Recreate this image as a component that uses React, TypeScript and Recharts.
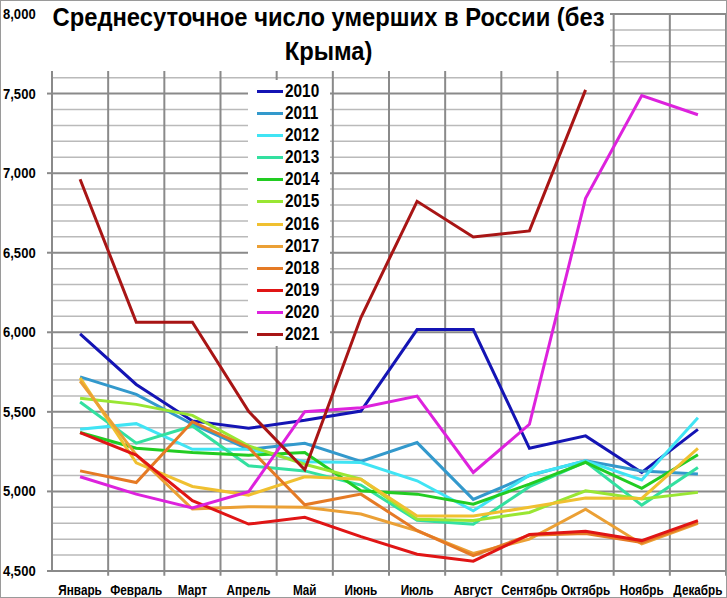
import { LineChart, Line, XAxis, YAxis, ReferenceLine } from "recharts"

const months = ["Январь", "Февраль", "Март", "Апрель", "Май", "Июнь", "Июль", "Август", "Сентябрь", "Октябрь", "Ноябрь", "Декабрь"]
const years = ["2010", "2011", "2012", "2013", "2014", "2015", "2016", "2017", "2018", "2019", "2020", "2021"]

const y2010 = [5990, 5672, 5443, 5397, 5447, 5505, 6017, 6017, 5271, 5349, 5119, 5390]
const y2011 = [5720, 5610, 5422, 5265, 5303, 5188, 5307, 4950, 5100, 5192, 5129, 5109]
const y2012 = [5390, 5426, 5265, 5265, 5186, 5182, 5067, 4878, 5102, 5192, 5072, 5463]
const y2013 = [5562, 5303, 5411, 5161, 5129, 5040, 4819, 4794, 5030, 5186, 4914, 5150]
const y2014 = [5370, 5271, 5244, 5228, 5244, 5004, 4983, 4920, 5046, 5182, 5019, 5230]
const y2015 = [5585, 5547, 5478, 5286, 5171, 5077, 4825, 4818, 4868, 5004, 4952, 4994]
const y2016 = [5714, 5180, 5031, 4977, 5092, 5077, 4846, 4846, 4900, 4958, 4956, 5271]
const y2017 = [5693, 5230, 4889, 4904, 4900, 4858, 4752, 4610, 4700, 4888, 4670, 4800]
const y2018 = [5129, 5056, 5438, 5276, 4916, 4983, 4755, 4597, 4725, 4735, 4680, 4806]
const y2019 = [5370, 5228, 4942, 4795, 4837, 4716, 4605, 4562, 4730, 4749, 4691, 4816]
const y2020 = [5092, 4983, 4896, 4998, 5501, 5526, 5599, 5119, 5422, 6842, 7487, 7367]
const y2021 = [6962, 6063, 6063, 5503, 5136, 6093, 6823, 6599, 6637, 7523, null, null]

const series = [y2010, y2011, y2012, y2013, y2014, y2015, y2016, y2017, y2018, y2019, y2020, y2021]
const colors = ["#1414b4", "#3399cc", "#40e4f4", "#33e0a0", "#22cc22", "#99e633", "#f0c030", "#eba035", "#e57a25", "#e01515", "#dd22dd", "#a81515"]

const majorTicks = [4500, 5000, 5500, 6000, 6500, 7000, 7500, 8000]
const minorTicks = Array.from({ length: 36 }, (_, i) => 4500 + i * 100).filter((v) => v % 500 !== 0)
const bounds = Array.from({ length: 12 }, (_, i) => i + 1)
const centers = months.map((_, i) => i + 0.5)

const data = months.map((m, i) => {
  const row: Record<string, number | string | null> = { x: i + 0.5, month: m }
  years.forEach((y, k) => { row[y] = series[k][i] })
  return row
})

const FONT = "'Liberation Sans', Arial, sans-serif"
const GRID = "#8a8a8a"

function MonthTick({ x, y, payload }: any) {
  return (
    <text transform={`translate(${x},${y + 16}) scale(0.84,1)`} textAnchor="middle"
      fontFamily={FONT} fontWeight={700} fontSize={14} fill="#000">
      {months[Math.floor(payload.value)]}
    </text>
  )
}

function ValueTick({ y, payload }: any) {
  return (
    <text transform={`translate(3,${y + 5}) scale(0.87,1)`} textAnchor="start"
      fontFamily={FONT} fontWeight={700} fontSize={15} fill="#000">
      {payload.value.toLocaleString("en-US")}
    </text>
  )
}

export default function App() {
  return (
    <div style={{ position: "absolute", left: 0, top: 0, width: 727, height: 598, background: "#fff" }}>
      <LineChart width={727} height={598} data={data} margin={{ top: 14, right: 1, bottom: 0, left: 0 }}>
        {minorTicks.map((v) => (
          <ReferenceLine key={"n" + v} xAxisId="m" yAxisId="v" y={v} ifOverflow="extendDomain" stroke="#bababa" strokeWidth={1.5} />
        ))}
        {majorTicks.slice(1).map((v) => (
          <ReferenceLine key={"j" + v} xAxisId="m" yAxisId="v" y={v} ifOverflow="extendDomain" stroke={GRID} strokeWidth={2} />
        ))}
        {bounds.map((b) => (
          <ReferenceLine key={"b" + b} xAxisId="m" yAxisId="v" ifOverflow="visible" stroke={GRID} strokeWidth={2}
            segment={[{ x: b, y: 4470 }, { x: b, y: 8000 }]} />
        ))}
        <XAxis xAxisId="m" type="number" dataKey="x" domain={[0, 12]} ticks={centers} height={27}
          interval={0} axisLine={{ stroke: GRID, strokeWidth: 2 }} tickLine={false} tick={<MonthTick />} />
        <YAxis yAxisId="v" type="number" domain={[4500, 8000]} ticks={majorTicks} width={52} interval={0}
          axisLine={{ stroke: GRID, strokeWidth: 2 }} tickLine={{ stroke: GRID, strokeWidth: 2 }} tickSize={5} tick={<ValueTick />} />
        {years.map((y, k) => (
          <Line key={y} xAxisId="m" yAxisId="v" dataKey={y} name={y} stroke={colors[k]} strokeWidth={3}
            dot={false} activeDot={false} isAnimationActive={false} />
        ))}
      </LineChart>
      <div style={{
        position: "absolute", left: 47, top: 0, width: 563, height: 71, background: "#fff",
        textAlign: "center", fontFamily: FONT, fontWeight: 700, fontSize: 25, lineHeight: "34px", color: "#000",
      }}>
        <div style={{ transform: "scaleX(0.95)", transformOrigin: "50% 0", whiteSpace: "nowrap", marginLeft: -20, marginRight: -20 }}>
          Среднесуточное число умерших в России (без<br />Крыма)
        </div>
      </div>
      <div style={{ position: "absolute", left: 248, top: 80, width: 82, height: 266, background: "#fff", fontFamily: FONT, fontWeight: 700 }}>
        {years.map((y, k) => (
          <div key={y} style={{ height: 22.1, position: "relative" }}>
            <span style={{ position: "absolute", left: 9, top: 10, width: 26, height: 3, background: colors[k] }} />
            <span style={{ position: "absolute", left: 37, top: 0, fontSize: 19, lineHeight: "22px", color: "#000", transform: "scaleX(0.81)", transformOrigin: "0 0" }}>{y}</span>
          </div>
        ))}
      </div>
      <div style={{ position: "absolute", left: 0, top: 0, width: 727, height: 598, boxSizing: "border-box", border: "1px solid #9a9a9a", pointerEvents: "none" }} />
    </div>
  )
}
